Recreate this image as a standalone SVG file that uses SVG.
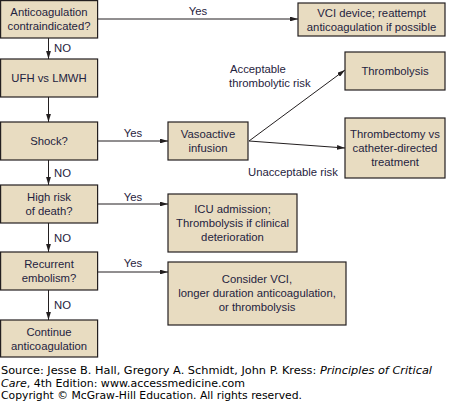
<svg xmlns="http://www.w3.org/2000/svg" width="455" height="404" viewBox="0 0 455 404">
<style>
.box{fill:#e8dcc1;stroke:#231f20;stroke-width:1.2}
.t{font-family:"Liberation Sans",Arial,sans-serif;font-size:11.3px;fill:#1f2340;text-anchor:middle}
.l{font-family:"Liberation Sans",Arial,sans-serif;font-size:11.3px;fill:#1f2340}
.c{fill:none;stroke:#231f20;stroke-width:1}
.f{font-family:"DejaVu Sans",Verdana,sans-serif;font-size:10px;fill:#000}
</style>
<defs>
<marker id="a" viewBox="0 0 10 6" refX="10" refY="3" markerWidth="8" markerHeight="4.8" markerUnits="userSpaceOnUse" orient="auto">
<path d="M0,0 L10,3 L0,6 Z" fill="#231f20"/>
</marker>
</defs>
<rect width="455" height="404" fill="#fff"/>
<g id="connectors">
<path class="c" d="M98,19 H298" marker-end="url(#a)"/>
<path class="c" d="M48.5,38 V59" marker-end="url(#a)"/>
<path class="c" d="M48.5,97 V122" marker-end="url(#a)"/>
<path class="c" d="M97,141 H168" marker-end="url(#a)"/>
<path class="c" d="M249,141 L345,70" marker-end="url(#a)"/>
<path class="c" d="M249,141 L345,148" marker-end="url(#a)"/>
<path class="c" d="M48.5,160 V185" marker-end="url(#a)"/>
<path class="c" d="M97,204 H168" marker-end="url(#a)"/>
<path class="c" d="M48.5,223 V252" marker-end="url(#a)"/>
<path class="c" d="M97,272 H168" marker-end="url(#a)"/>
<path class="c" d="M48.5,290 V320" marker-end="url(#a)"/>
<text class="t" x="198" y="15">Yes</text>
<text class="l" x="54" y="52">NO</text>
<text class="t" x="133" y="137">Yes</text>
<text class="l" x="230" y="73">Acceptable</text>
<text class="l" x="229" y="87">thrombolytic risk</text>
<text class="l" x="248" y="176">Unacceptable risk</text>
<text class="l" x="54" y="177">NO</text>
<text class="t" x="133" y="201">Yes</text>
<text class="l" x="54" y="242">NO</text>
<text class="t" x="133" y="267">Yes</text>
<text class="l" x="54" y="309">NO</text>
</g>
<g id="n1"><rect class="box" x="0.6" y="0.6" width="97" height="37.4"/>
<text class="t" x="49" y="16">Anticoagulation</text><text class="t" x="49" y="30">contraindicated?</text></g>
<g id="n2"><rect class="box" x="298" y="3" width="147" height="33"/>
<text class="t" x="371.5" y="17">VCI device; reattempt</text><text class="t" x="371.5" y="31">anticoagulation if possible</text></g>
<g id="n3"><rect class="box" x="0.6" y="59" width="97" height="38"/>
<text class="t" x="49" y="82">UFH vs LMWH</text></g>
<g id="n4"><rect class="box" x="345" y="52" width="100" height="38"/>
<text class="t" x="395" y="75">Thrombolysis</text></g>
<g id="n5"><rect class="box" x="0.6" y="122" width="97" height="38"/>
<text class="t" x="49" y="145">Shock?</text></g>
<g id="n6"><rect class="box" x="168" y="122" width="80" height="38"/>
<text class="t" x="208" y="138">Vasoactive</text><text class="t" x="208" y="152">infusion</text></g>
<g id="n7"><rect class="box" x="345" y="118" width="100" height="60"/>
<text class="t" x="395" y="138">Thrombectomy vs</text><text class="t" x="395" y="152">catheter-directed</text><text class="t" x="395" y="166">treatment</text></g>
<g id="n8"><rect class="box" x="0.6" y="185" width="97" height="38"/>
<text class="t" x="49" y="201">High risk</text><text class="t" x="49" y="215">of death?</text></g>
<g id="n9"><rect class="box" x="168" y="194" width="129" height="58"/>
<text class="t" x="232.5" y="213">ICU admission;</text><text class="t" x="232.5" y="227">Thrombolysis if clinical</text><text class="t" x="232.5" y="241">deterioration</text></g>
<g id="n10"><rect class="box" x="0.6" y="252" width="97" height="38"/>
<text class="t" x="49" y="268">Recurrent</text><text class="t" x="49" y="282">embolism?</text></g>
<g id="n11"><rect class="box" x="168" y="262" width="178" height="63"/>
<text class="t" x="257" y="283">Consider VCI,</text><text class="t" x="257" y="297">longer duration anticoagulation,</text><text class="t" x="257" y="311">or thrombolysis</text></g>
<g id="n12"><rect class="box" x="0.6" y="320" width="97" height="37"/>
<text class="t" x="49" y="336">Continue</text><text class="t" x="49" y="350">anticoagulation</text></g>
<g id="footer">
<text class="f" x="1" y="374" textLength="431" lengthAdjust="spacingAndGlyphs">Source: Jesse B. Hall, Gregory A. Schmidt, John P. Kress: <tspan font-style="italic">Principles of Critical</tspan></text>
<text class="f" x="1" y="386.5" textLength="244" lengthAdjust="spacingAndGlyphs"><tspan font-style="italic">Care</tspan>, 4th Edition: www.accessmedicine.com</text>
<text class="f" x="1" y="399" textLength="301" lengthAdjust="spacingAndGlyphs">Copyright © McGraw-Hill Education. All rights reserved.</text>
</g>
</svg>
